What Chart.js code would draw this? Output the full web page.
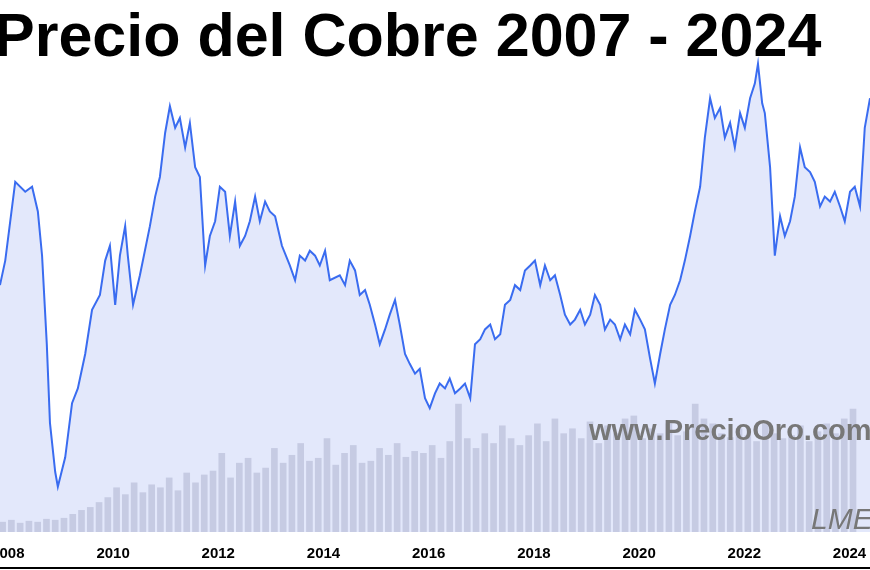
<!DOCTYPE html>
<html><head><meta charset="utf-8">
<script src="https://cdn.jsdelivr.net/npm/chart.js@4"></script>
<style>
body{margin:0;width:870px;height:570px;overflow:hidden;background:#fff;position:relative;font-family:"Liberation Sans",Arial,sans-serif}
#c{position:absolute;left:-30px;top:0}
#title{position:absolute;left:-6px;top:0px;font-weight:bold;font-size:61px;color:#000;white-space:nowrap;line-height:70px}
#wm{position:absolute;left:589px;top:414px;font-weight:bold;font-size:29px;color:#777;white-space:nowrap}
#lme{position:absolute;left:811px;top:502px;font-style:italic;font-size:30px;color:#777;white-space:nowrap}
#bl{position:absolute;left:0;top:567px;width:870px;height:2px;background:#000}
</style></head><body>
<canvas id="c" width="930" height="570"></canvas>
<div id="title">Precio del Cobre 2007 - 2024</div>
<div id="wm">www.PrecioOro.com</div>
<div id="lme">LME</div>
<div id="bl"></div>
<script>
const dates=[2007.85,2007.95,2008.14,2008.33,2008.46,2008.57,2008.65,2008.74,2008.80,2008.90,2008.95,2009.09,2009.22,2009.33,2009.47,2009.60,2009.75,2009.85,2009.94,2010.04,2010.13,2010.23,2010.28,2010.38,2010.51,2010.70,2010.80,2010.89,2010.99,2011.08,2011.18,2011.27,2011.37,2011.46,2011.56,2011.65,2011.75,2011.84,2011.94,2012.03,2012.13,2012.22,2012.32,2012.41,2012.51,2012.60,2012.70,2012.79,2012.89,2012.98,2013.08,2013.21,2013.36,2013.46,2013.55,2013.65,2013.74,2013.84,2013.93,2014.03,2014.12,2014.31,2014.41,2014.50,2014.60,2014.69,2014.79,2014.88,2014.98,2015.07,2015.17,2015.26,2015.36,2015.45,2015.55,2015.64,2015.74,2015.83,2015.93,2016.02,2016.12,2016.21,2016.31,2016.40,2016.50,2016.60,2016.69,2016.79,2016.88,2016.98,2017.07,2017.17,2017.26,2017.36,2017.45,2017.55,2017.64,2017.74,2017.83,2017.93,2018.02,2018.12,2018.21,2018.31,2018.40,2018.50,2018.59,2018.69,2018.78,2018.88,2018.97,2019.07,2019.16,2019.26,2019.35,2019.45,2019.54,2019.64,2019.73,2019.83,2019.92,2020.02,2020.11,2020.21,2020.30,2020.40,2020.49,2020.59,2020.68,2020.78,2020.87,2020.97,2021.06,2021.16,2021.25,2021.35,2021.44,2021.54,2021.63,2021.73,2021.82,2021.92,2022.01,2022.11,2022.20,2022.26,2022.34,2022.39,2022.49,2022.58,2022.68,2022.77,2022.87,2022.96,2023.06,2023.15,2023.25,2023.34,2023.44,2023.53,2023.63,2023.72,2023.82,2023.91,2024.01,2024.10,2024.20,2024.29,2024.39];
const prices=[6670,7117,8549,8370,8460,8012,7207,5596,4164,3269,3000,3537,4522,4790,5417,6222,6491,7117,7386,6312,7207,7744,7207,6312,6849,7744,8281,8639,9444,9927,9534,9713,9176,9623,8818,8639,7028,7565,7833,8460,8370,7565,8191,7386,7565,7833,8281,7833,8191,8012,7923,7386,7028,6759,7207,7117,7296,7207,7028,7296,6759,6849,6670,7117,6938,6491,6580,6312,5954,5596,5864,6133,6401,5954,5417,5238,5059,5148,4611,4432,4701,4880,4790,4969,4701,4790,4880,4611,5596,5685,5864,5954,5685,5775,6312,6401,6670,6580,6938,7028,7117,6670,7028,6759,6849,6491,6133,5954,6043,6222,5954,6133,6491,6312,5864,6043,5954,5685,5954,5775,6222,6043,5864,5327,4880,5417,5864,6312,6491,6759,7117,7565,8012,8460,9355,10071,9713,9892,9355,9623,9176,9802,9534,10071,10339,10697,9981,9802,8818,7207,7923,7565,7833,8281,9176,8818,8728,8549,8102,8281,8191,8370,8102,7833,8370,8460,8102,9534,10071];
const volDates=[];for(let i=0;i<98;i++)volDates.push(2007.9+i/6);
const volumes=[10,12,9,11,10,13,12,14,18,22,25,30,35,45,38,50,40,48,45,55,42,60,50,58,62,80,55,70,75,60,65,85,70,78,90,72,75,95,68,80,88,70,72,85,78,90,76,82,80,88,75,92,130,95,85,100,90,108,95,88,98,110,92,115,100,105,95,112,90,108,100,115,118,95,105,100,110,98,102,130,115,110,100,96,105,98,92,110,100,95,98,108,92,102,110,100,115,125];
const yearTicks=[2008,2010,2012,2014,2016,2018,2020,2022,2024];
new Chart(document.getElementById('c'),{
 data:{datasets:[
  {type:'bar',order:0,data:volDates.map((d,i)=>({x:d,y:volumes[i]})),backgroundColor:'#c6cbe3',barThickness:6,yAxisID:'yv'},
  {type:'line',order:1,data:dates.map((d,i)=>({x:d,y:prices[i]})),borderColor:'#3a6cf0',borderWidth:2,pointRadius:0,tension:0,fill:'start',backgroundColor:'#e3e8fb',yAxisID:'y'}
 ]},
 options:{responsive:false,animation:false,layout:{padding:{top:0,bottom:2,left:0,right:0}},
  plugins:{legend:{display:false},tooltip:{enabled:false}},
  scales:{
   x:{type:'linear',offset:false,min:2007.28,max:2024.96,grid:{display:false,offset:false},border:{display:false},
      afterBuildTicks:a=>{a.ticks=yearTicks.map(v=>({value:v}));},
      ticks:{autoSkip:false,maxRotation:0,padding:5,color:'#000',font:{family:'Liberation Sans',weight:'bold',size:15},callback:v=>String(v)}},
   y:{display:false,min:2177,max:11860},
   yv:{display:false,min:0,max:541}
  }}
});
</script></body></html>
